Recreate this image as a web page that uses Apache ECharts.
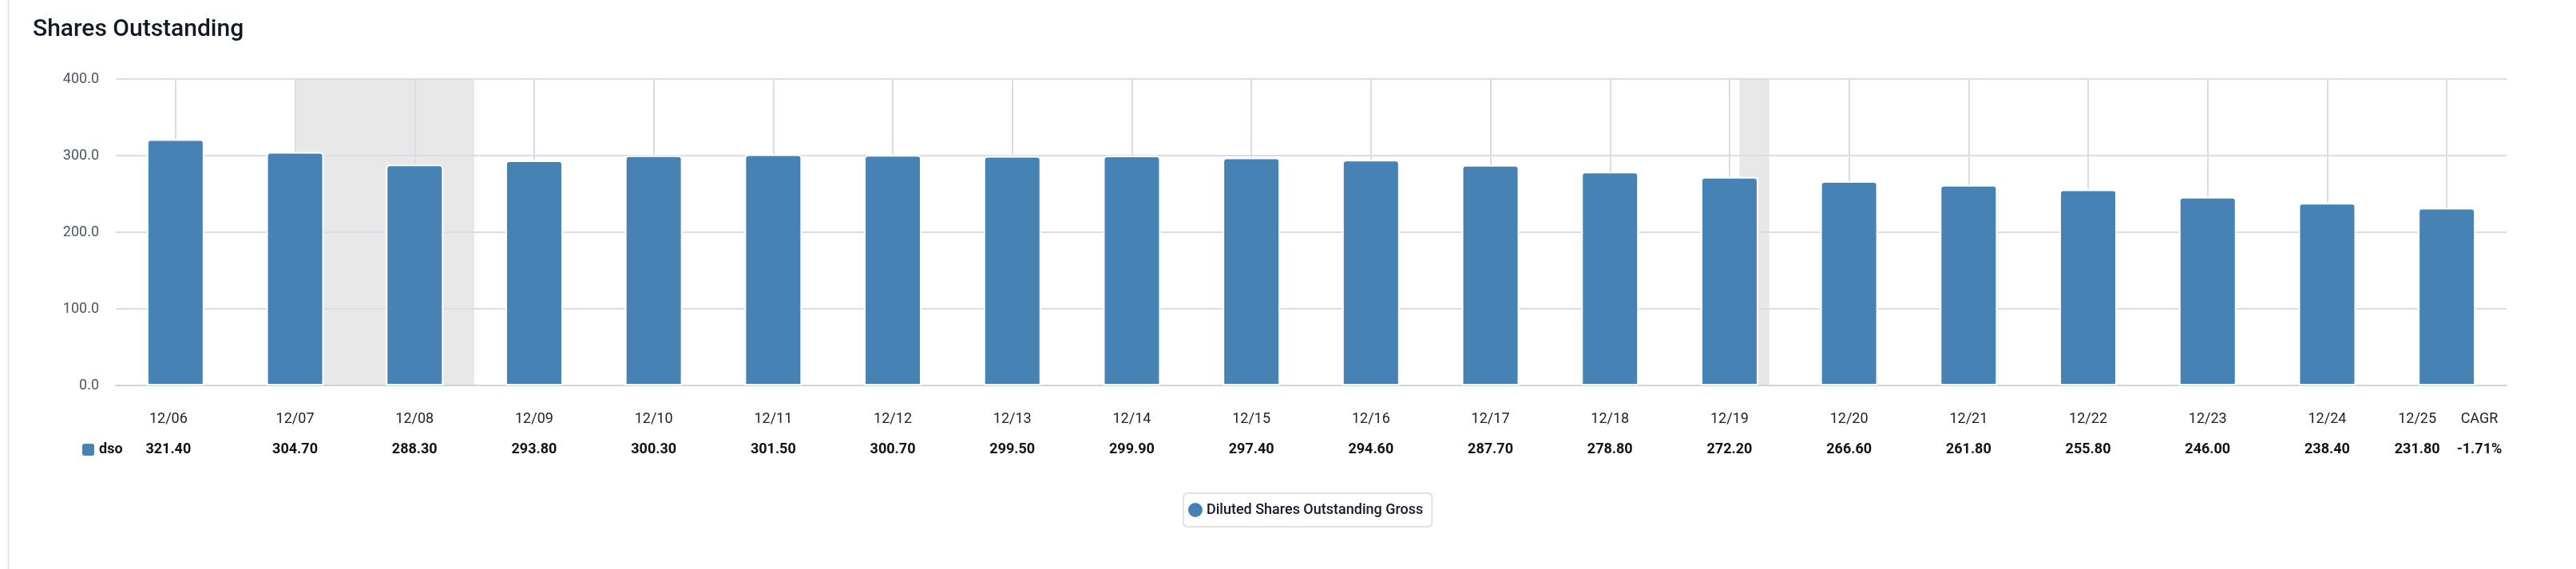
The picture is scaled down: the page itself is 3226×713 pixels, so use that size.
<!DOCTYPE html>
<html>
<head>
<meta charset="utf-8">
<script src="https://cdn.jsdelivr.net/npm/echarts@6/dist/echarts.min.js"></script>
<style>
html,body{margin:0;padding:0;background:#fff;}
#chart{width:3226px;height:713px;}
</style>
</head>
<body>
<div id="chart"></div>
<script>
// ---- data ----
const categories = ['12/06','12/07','12/08','12/09','12/10','12/11','12/12','12/13','12/14','12/15',
                    '12/16','12/17','12/18','12/19','12/20','12/21','12/22','12/23','12/24','12/25'];
const dso = [321.40,304.70,288.30,293.80,300.30,301.50,300.70,299.50,299.90,297.40,
             294.60,287.70,278.80,272.20,266.60,261.80,255.80,246.00,238.40,231.80];
const yMin = 0, yMax = 400, yStep = 100;
const seriesName = 'Diluted Shares Outstanding Gross';
const rowName = 'dso';
const cagrLabel = 'CAGR';
const cagrValue = '-1.71%';
// shaded recession periods, in category-index units (12/06 = 0, 12/07 = 1, ...)
const recessionStart = [1.0, 13.083];
const recessionEnd   = [2.5, 13.333];

// ---- chart ----
const FONT = 'Roboto';
const GRID_COLOR = '#dcdce6';
const BAR_COLOR = '#4682b4';
const last = categories.length - 1;

const chart = echarts.init(document.getElementById('chart'), null, {renderer: 'canvas'});

const option = {
  backgroundColor: '#ffffff',
  animation: false,
  textStyle: {fontFamily: FONT},
  title: {
    text: 'Shares Outstanding',
    left: 41, top: 22, padding: 0,
    textStyle: {fontFamily: FONT, fontSize: 30, fontWeight: 500, color: '#111827'}
  },
  grid: {left: 145, right: 87, top: 99, bottom: 230},
  legend: {
    data: [seriesName],
    left: 1482, top: 618,
    icon: 'circle', itemWidth: 18, itemHeight: 18,
    padding: [12, 11, 12, 6],
    borderColor: '#d6d6e0', borderWidth: 1.5, borderRadius: 5,
    itemStyle: {borderWidth: 0},
    textStyle: {fontFamily: FONT, fontSize: 18, fontWeight: 500, color: '#111827'}
  },
  xAxis: [
    {
      type: 'category',
      data: categories,
      boundaryGap: true,
      axisLine: {lineStyle: {color: '#d3d3de', width: 2}},
      axisTick: {alignWithLabel: true, length: 14, lineStyle: {color: '#d3d3de', width: 2}},
      splitLine: {show: false},
      axisLabel: {
        interval: 0,
        margin: 23,
        formatter: function (v, i) {
          const s = i === 0 ? 'F' : (i === last ? 'L' : '');
          return '{c' + s + '|' + v + '}\n{v' + s + '|' + dso[i].toFixed(2) + '}';
        },
        rich: {
          c:  {fontFamily: FONT, fontSize: 18, color: '#222', lineHeight: 38},
          v:  {fontFamily: FONT, fontSize: 18, fontWeight: 'bold', color: '#111', lineHeight: 38},
          cF: {fontFamily: FONT, fontSize: 18, color: '#222', lineHeight: 38, padding: [0, 18, 0, 0]},
          vF: {fontFamily: FONT, fontSize: 18, fontWeight: 'bold', color: '#111', lineHeight: 38, padding: [0, 18, 0, 0]},
          cL: {fontFamily: FONT, fontSize: 18, color: '#222', lineHeight: 38, padding: [0, 74, 0, 0]},
          vL: {fontFamily: FONT, fontSize: 18, fontWeight: 'bold', color: '#111', lineHeight: 38, padding: [0, 74, 0, 0]}
        }
      }
    },
    {
      type: 'value',
      min: -0.5, max: categories.length - 0.5,
      show: false
    }
  ],
  yAxis: {
    type: 'value',
    min: yMin, max: yMax, interval: yStep,
    axisLine: {show: false},
    axisTick: {show: false},
    splitLine: {lineStyle: {color: GRID_COLOR, width: 2}},
    axisLabel: {
      margin: 21,
      fontFamily: FONT, fontSize: 18, color: '#4b5563',
      formatter: function (v) { return v.toFixed(1); }
    }
  },
  series: [
    {
      name: seriesName,
      type: 'bar',
      data: dso,
      barWidth: 72,
      z: 3,
      itemStyle: {color: BAR_COLOR, borderColor: '#ffffff', borderWidth: 2, borderRadius: [4, 4, 0, 0]},
      markLine: {
        silent: true,
        z: 1,
        symbol: ['none', 'none'],
        label: {show: false},
        lineStyle: {color: GRID_COLOR, width: 2, type: 'solid'},
        data: categories.map(function (c) { return {xAxis: c}; })
      }
    },
    {
      name: 'recessions',
      type: 'line',
      xAxisIndex: 1,
      data: [],
      silent: true,
      markArea: {
        silent: true,
        z: -1,
        itemStyle: {color: '#e8e8e8'},
        data: recessionStart.map(function (s, i) { return [{xAxis: s}, {xAxis: recessionEnd[i]}]; })
      }
    }
  ],
  graphic: [
    {type: 'line', shape: {x1: 10.5, y1: 0, x2: 10.5, y2: 713}, style: {stroke: '#dcdce6', lineWidth: 1.5}, silent: true},
    {type: 'rect', shape: {x: 103, y: 556, width: 15, height: 15, r: 3}, style: {fill: BAR_COLOR}, silent: true},
    {type: 'text', x: 124, y: 563, style: {text: rowName, font: 'bold 18px Roboto', fill: '#111', verticalAlign: 'middle', align: 'left'}, silent: true},
    {type: 'text', x: 3105, y: 525, style: {text: cagrLabel, font: '18px Roboto', fill: '#222', verticalAlign: 'middle', align: 'center'}, silent: true},
    {type: 'text', x: 3105, y: 563, style: {text: cagrValue, font: 'bold 18px Roboto', fill: '#111', verticalAlign: 'middle', align: 'center'}, silent: true}
  ]
};

chart.setOption(option);
</script>
</body>
</html>
